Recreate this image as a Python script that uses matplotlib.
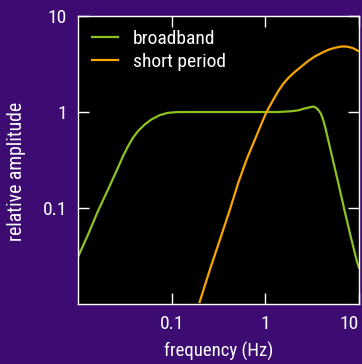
import matplotlib
matplotlib.use("Agg")
import matplotlib.pyplot as plt
from matplotlib import font_manager
from matplotlib.ticker import FixedLocator, FixedFormatter, NullLocator

# narrow sans if one is installed
installed = {f.name for f in font_manager.fontManager.ttflist}
family = 'Liberation Sans'
for cand in ['Roboto Condensed', 'Liberation Sans Narrow', 'Open Sans Condensed', 'Noto Sans Condensed']:
    if cand in installed:
        family = cand
        break
plt.rcParams['font.family'] = [family, 'DejaVu Sans']

# broadband response
bb_freq = [0.01, 0.0129, 0.0164, 0.021, 0.0258, 0.0303, 0.0343, 0.0387, 0.0437, 0.0516,
           0.0608, 0.0745, 0.091, 0.117, 0.137, 0.3, 0.7, 1.37, 1.91, 2.24, 2.64, 2.99,
           3.24, 3.43, 3.66, 3.92, 4.14, 4.38, 4.68, 5.96, 6.92, 8.27, 9.6, 10.0]
bb_amp = [0.031, 0.0538, 0.0938, 0.157, 0.244, 0.348, 0.442, 0.541, 0.632, 0.742,
          0.836, 0.927, 0.98, 1.0, 1.0, 1.0, 1.0, 1.0, 1.02, 1.04, 1.09, 1.12,
          1.14, 1.12, 1.06, 0.965, 0.836, 0.686, 0.519, 0.19, 0.1, 0.048, 0.027, 0.024]

# short period response
sp_freq = [0.199, 0.258, 0.330, 0.421, 0.516, 0.633, 0.776, 0.935, 1.03, 1.19, 1.37, 1.55,
           1.76, 2.03, 2.43, 2.86, 3.38, 3.97, 4.68, 5.51, 6.48, 7.33, 8.27, 9.0, 9.6, 10.0]
sp_amp = [0.0105, 0.0233, 0.0477, 0.0977, 0.185, 0.322, 0.519, 0.803, 1.0, 1.29, 1.64, 1.96,
          2.26, 2.58, 2.98, 3.39, 3.79, 4.11, 4.44, 4.66, 4.81, 4.81, 4.69, 4.55, 4.37, 4.3]

x_ticks = [0.1, 1, 10]
x_labels = ['0.1', '1', '10']
y_ticks = [0.1, 1, 10]
y_labels = ['0.1', '1', '10']

purple = '#3d0c72'
fig = plt.figure(figsize=(3.62, 3.64), dpi=100, facecolor=purple)
ax = fig.add_axes([0.2155, 0.1648, 0.776, 0.7912])
ax.set_facecolor('black')

ax.plot(bb_freq, bb_amp, color='#8dc21f', lw=1.6, label='broadband')
ax.plot(sp_freq, sp_amp, color='#f7a600', lw=1.6, label='short period')

ax.set_xscale('log')
ax.set_yscale('log')
ax.set_xlim(0.01, 10)
ax.set_ylim(0.01, 10)

ax.xaxis.set_major_locator(FixedLocator(x_ticks))
ax.xaxis.set_major_formatter(FixedFormatter(x_labels))
ax.yaxis.set_major_locator(FixedLocator(y_ticks))
ax.yaxis.set_major_formatter(FixedFormatter(y_labels))
ax.xaxis.set_minor_locator(NullLocator())
ax.yaxis.set_minor_locator(NullLocator())

ax.tick_params(which='major', direction='in', length=8, width=1, color='white',
               labelcolor='white', labelsize=14, top=True, right=True, pad=8)
for s in ax.spines.values():
    s.set_color('white')
    s.set_linewidth(1)
# keep the "10" on the right inside the figure
ax.xaxis.get_majorticklabels()[-1].set_horizontalalignment('right')

ax.set_xlabel('frequency (Hz)', color='white', fontsize=13.5, labelpad=6)
ax.set_ylabel('relative amplitude', color='white', fontsize=14.2)
ax.yaxis.set_label_coords(-0.185, 0.46)

leg = ax.legend(loc='upper left', frameon=False, fontsize=14, handlelength=1.34,
                handletextpad=0.77, borderaxespad=0.32, borderpad=0.4, labelspacing=0.25)
for t in leg.get_texts():
    t.set_color('white')

fig.savefig('out.png', dpi=100, facecolor=purple)
